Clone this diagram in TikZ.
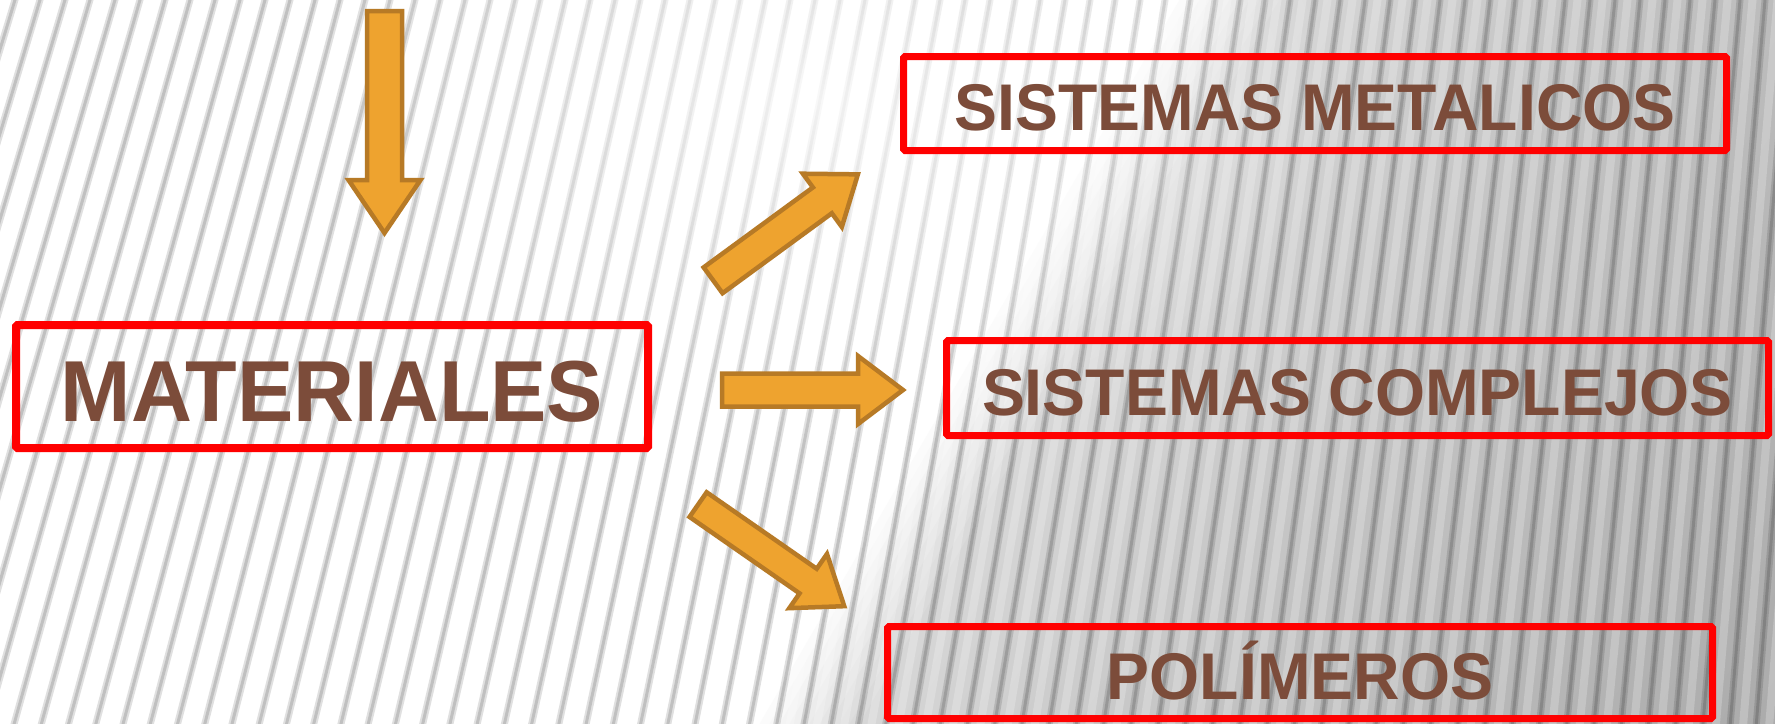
\documentclass[tikz,border=0pt]{standalone}
\usepackage{fontspec}
\usepackage{graphicx}
\setmainfont{Liberation Sans}
\usetikzlibrary{fadings}
\definecolor{boxred}{RGB}{255,0,0}
\definecolor{txtbrown}{RGB}{124,76,58}
\definecolor{arrfill}{RGB}{238,163,47}
\definecolor{arrline}{RGB}{183,122,38}
\tikzfading[name=glowfade, inner color=transparent!0, outer color=transparent!100]
\newcommand{\blockarrow}[7]{%
  \begin{scope}[shift={(#1,#2)}, rotate=#3]
    \filldraw[arrowshape] (0,-#5) -- (#4,-#5) -- (#4,-#6) -- ({#4+#7},0) -- (#4,#6) -- (#4,#5) -- (0,#5) -- cycle;
  \end{scope}}
\begin{document}
\begin{tikzpicture}[x=1pt,y=-1pt,
  arrowshape/.style={fill=arrfill, draw=arrline, line width=4.5pt, line join=miter},
  boxbase/.style={draw=boxred, inner sep=0pt, text=txtbrown, text depth=0pt, rounded corners=1.5pt},
  bigbox/.style={boxbase, line width=8pt, font=\fontsize{86.6pt}{90pt}\selectfont\bfseries},
  smallbox/.style={boxbase, line width=7pt, font=\fontsize{66pt}{70pt}\selectfont\bfseries}]
\useasboundingbox (0,0) rectangle (1775,723);
% background
\fill[white] (0,0) rectangle (1775,723);
\begin{scope}
  \clip (0,0) rectangle (1775,723);
  % leaning grey gradient (own bands)
  \foreach \c in {1170,1180,...,2200}{
    \pgfmathsetmacro{\lv}{max(0,min(16,(\c-1170)/110*16))+max(0,min(8,(\c-1280)/370*8))+max(0,min(9,(\c-1650)/550*9))}
    \fill[black!\lv] (\c,-1) -- (\c+11,-1) -- (\c+11-0.58*725,724) -- (\c-0.58*725,724) -- cycle;
  }
  \foreach \i in {0,...,76}{
    \pgfmathsetmacro{\xt}{-10+25*\i}
    \pgfmathsetmacro{\s}{max(0.08,0.30-0.00012*\xt)}
    \pgfmathsetmacro{\xb}{\xt-\s*743}
    \draw[black, opacity=0.12, line width=7pt] (\xt+\s*10,-10) -- (\xb,733);
    \draw[black, opacity=0.14, line width=3pt] (\xt+\s*10,-10) -- (\xb,733);
    \draw[white, opacity=0.22, line width=8pt] (\xt+\s*10+12.5,-10) -- (\xb+13,733);
  }
  \fill[white, opacity=0.8, path fading=glowfade] (820,100) ellipse [x radius=520, y radius=360];
\end{scope}
% arrows
\blockarrow{384.5}{11}{-90}{169}{17.5}{36}{53}
\blockarrow{713.1}{280.3}{36.2}{135.4}{16}{33}{44}
\blockarrow{722}{390}{0}{136}{16.5}{34}{45}
\blockarrow{698.1}{504.6}{-34.8}{134}{15}{33}{44}
% boxes
\node[bigbox, minimum width=632pt, minimum height=123pt, text height=69pt] (mat) at (332,386.5) {\scalebox{0.975}[1]{MATERIALES}};
\node[smallbox, minimum width=823pt, minimum height=94pt, text height=53pt] (met) at (1315,103.5) {\scalebox{0.975}[1]{SISTEMAS METALICOS}};
\node[smallbox, minimum width=822pt, minimum height=95pt, text height=54pt] (comp) at (1357.5,388) {\scalebox{0.975}[1]{SISTEMAS COMPLEJOS}};
\node[smallbox, minimum width=825pt, minimum height=92pt, text height=53pt] (pol) at (1300,672.5) {\scalebox{0.975}[1]{POLÍMEROS}};
\end{tikzpicture}
\end{document}
